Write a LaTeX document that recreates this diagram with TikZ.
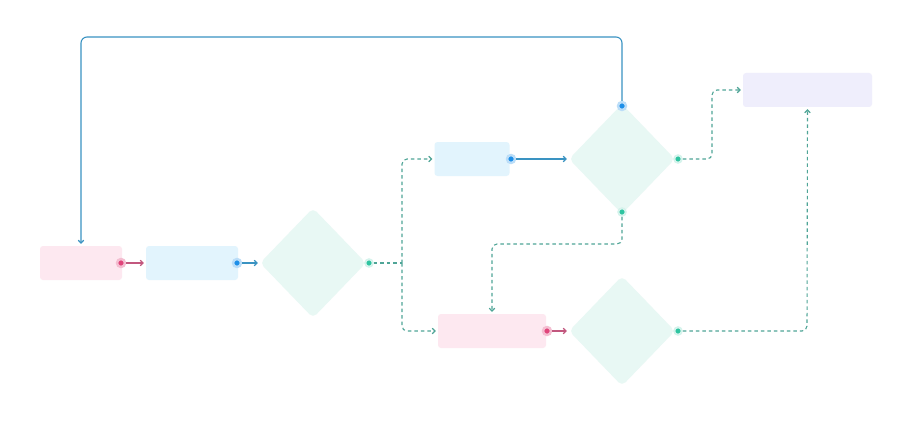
\documentclass[tikz,border=0pt]{standalone}
\usetikzlibrary{arrows.meta,shapes.geometric,calc}
\definecolor{pinkfill}{HTML}{FDE8F0}
\definecolor{bluefill}{HTML}{E2F4FD}
\definecolor{greenfill}{HTML}{E8F8F4}
\definecolor{purplefill}{HTML}{EFEEFC}
\definecolor{pinkdot}{HTML}{E0457B}
\definecolor{bluedot}{HTML}{1E8FE8}
\definecolor{greendot}{HTML}{2EC4A0}
\definecolor{pinkline}{HTML}{C2577E}
\definecolor{blueline}{HTML}{3A93C2}
\definecolor{dashline}{HTML}{4FA597}
\tikzset{
  box/.style={rectangle,rounded corners=3pt,inner sep=0pt,draw=none},
  dia/.style={diamond,inner sep=0pt,fill=greenfill,rounded corners=5pt,minimum width=106pt,minimum height=110pt},
  dotp/.style={circle,inner sep=0pt,minimum size=8pt,fill=pinkdot,draw=pinkdot!35,line width=2.4pt},
  dotb/.style={circle,inner sep=0pt,minimum size=8pt,fill=bluedot,draw=bluedot!30,line width=2.4pt},
  dotg/.style={circle,inner sep=0pt,minimum size=7.5pt,fill=greendot,draw=greendot!20,line width=2pt},
  tip/.style={-{Straight Barb[length=2.8pt,width=5.5pt]}},
  pconn/.style={tip,draw=pinkline,line width=1.1pt,shorten >=2pt},
  bconn/.style={tip,draw=blueline,line width=1.1pt,shorten >=2pt,rounded corners=6pt},
  dconn/.style={tip,draw=dashline,line width=1.1pt,dash pattern=on 3.5pt off 3pt,shorten >=2pt,rounded corners=5pt},
}
\begin{document}
\begin{tikzpicture}[x=1pt,y=-1pt]
\useasboundingbox[fill=white] (0,0) rectangle (912,425);
% nodes
\node[box,fill=pinkfill,minimum width=82pt,minimum height=34pt] (p1) at (81,263) {};
\node[box,fill=bluefill,minimum width=92pt,minimum height=34pt] (b1) at (192,263) {};
\node[dia] (d1) at (313,263) {};
\node[box,fill=bluefill,minimum width=75pt,minimum height=34pt] (b2) at (472,159) {};
\node[dia] (d2) at (622,159) {};
\node[box,fill=pinkfill,minimum width=108pt,minimum height=34pt] (p2) at (492,331) {};
\node[dia] (d3) at (622,331) {};
\node[box,fill=purplefill,minimum width=129pt,minimum height=34pt] (u1) at (807.5,90) {};
% dots
\node[dotp] (p1o) at (121,263) {};
\node[dotb] (b1o) at (237,263) {};
\node[dotg] (d1o) at (369,263) {};
\node[dotb] (b2o) at (511,159) {};
\node[dotb] (d2t) at (622,106) {};
\node[dotg] (d2r) at (678,159) {};
\node[dotg] (d2b) at (622,212) {};
\node[dotp] (p2o) at (547,331) {};
\node[dotg] (d3o) at (678,331) {};
% helper coordinates
\coordinate (s1) at (402,263);
% connectors
\draw[pconn] (p1o) -- (b1.west);
\draw[bconn] (b1o) -- (d1.west);
\draw[bconn] (b2o) -- (d2.west);
\draw[pconn] (p2o) -- (d3.west);
\draw[bconn] (d2t) -- (622,37) -- (81,37) -- (p1.north);
\draw[dconn,shorten >=0pt,-] (d1o) -- (s1);
\draw[dconn] (s1) |- (b2.west);
\draw[dconn] (s1) |- (p2.west);
\draw[dconn] (d2r) -- (712,159) -- (712,90) -- (u1.west);
\draw[dconn] (d2b) -- (622,244) -- (492,244) -- (p2.north);
\draw[dconn] (d3o) -- (807,331) -- (u1.south);
\end{tikzpicture}
\end{document}
